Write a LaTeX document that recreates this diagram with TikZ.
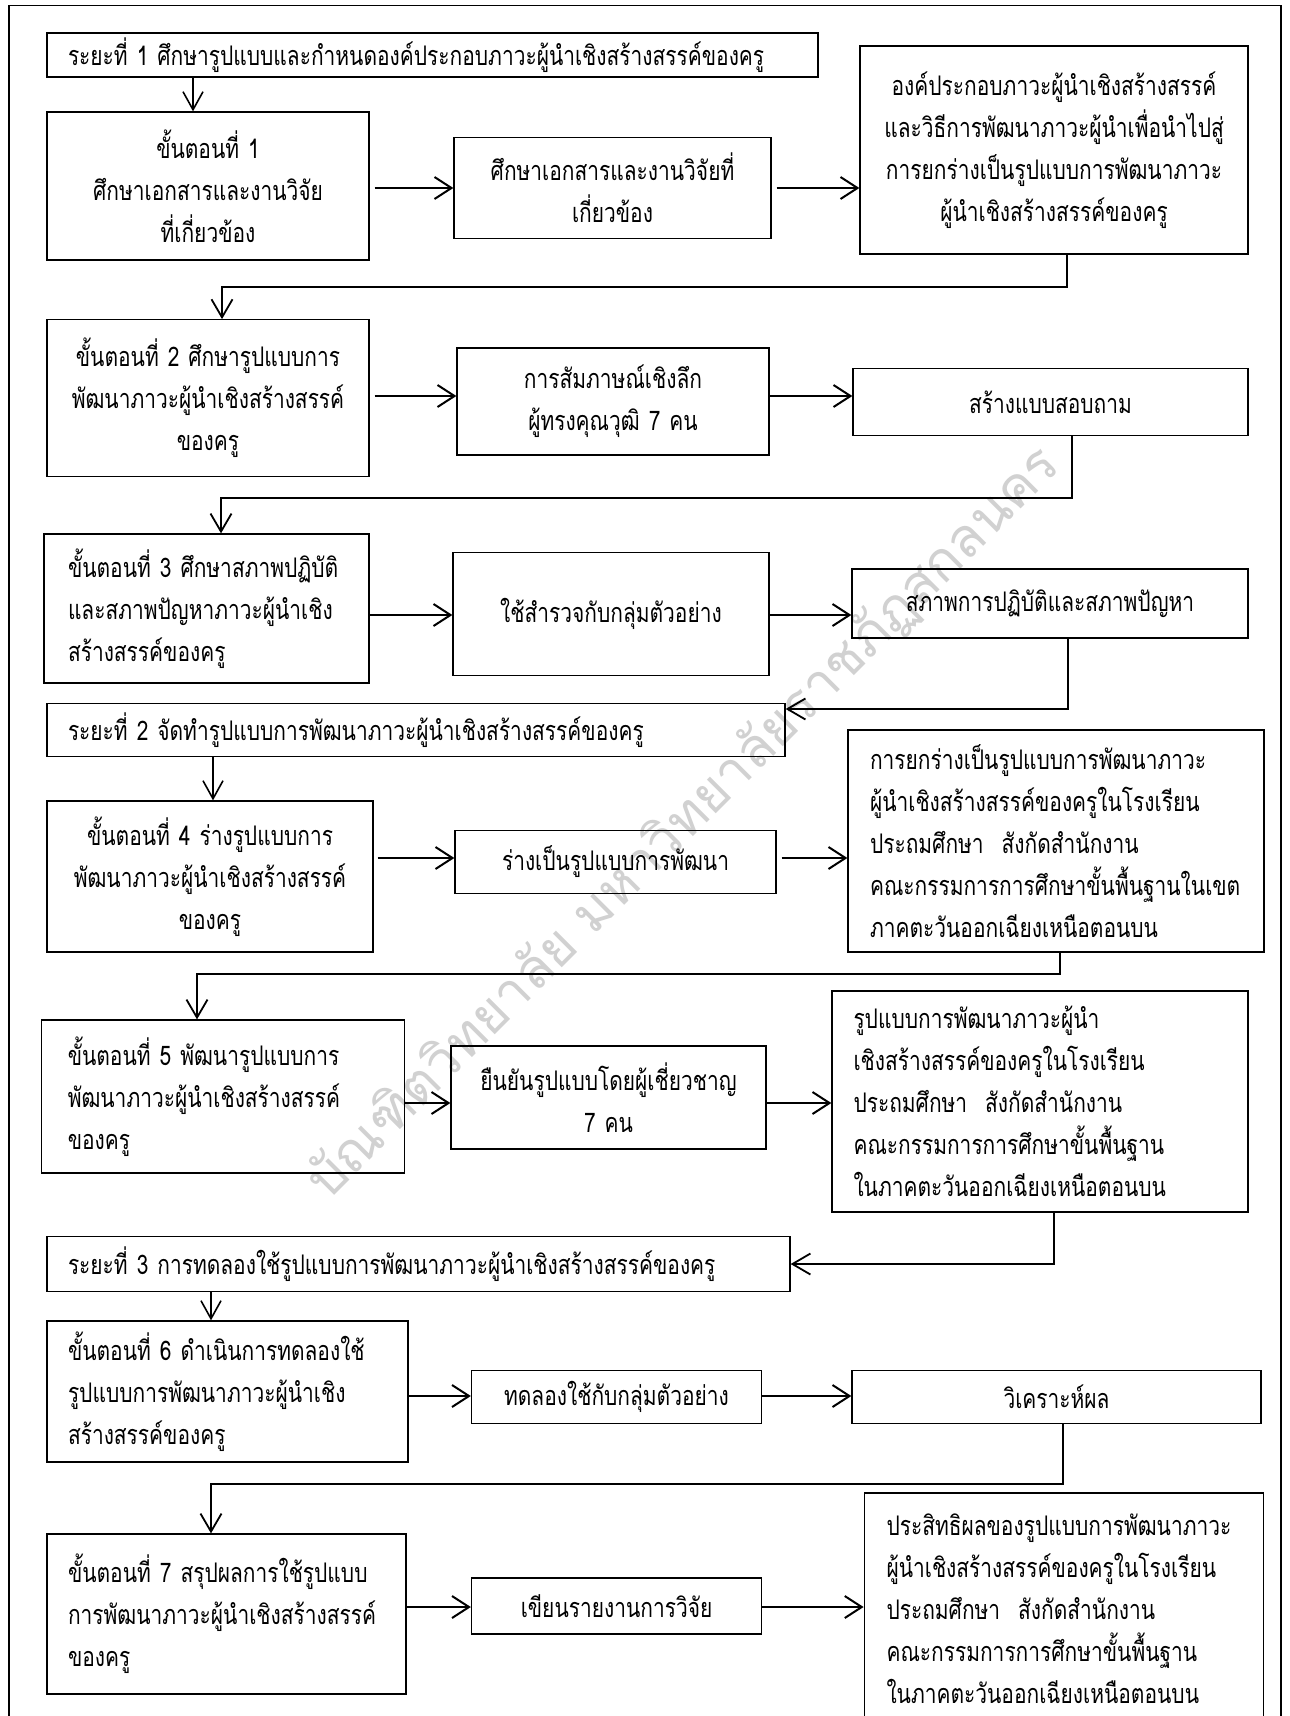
\documentclass[tikz,border=0pt]{standalone}
\usepackage{fontspec}
\newfontfamily\thai[Script=Thai,FakeStretch=0.775]{Loma}
\newfontfamily\thaiwm[Script=Thai]{Loma}
\usetikzlibrary{arrows.meta}
\tikzset{
  box/.style={draw, line width=1.3pt, inner sep=0pt, anchor=center,
    font={\thai\fontsize{27}{42}\selectfont}},
  cbox/.style={box, align=center},
  lbox/.style={box, align=left},
  harrow/.style={line width=2.6pt, -{Straight Barb[length=17pt,width=22pt,line width=2pt]}},
  varrow/.style={line width=1.6pt, -{Straight Barb[length=18pt,width=20pt,line width=1.6pt]}},
  elbowarrow/.style={line width=2pt, -{Straight Barb[length=18pt,width=21pt,line width=1.8pt]}},
  frame/.style={line width=1.3pt},
  watermark/.style={text=black!18, rotate=45, font={\thaiwm\fontsize{54}{60}\selectfont}},
}
\begin{document}
\begin{tikzpicture}[x=1pt,y=-1pt]
\useasboundingbox (0,0) rectangle (1290,1716);
\clip (0,0) rectangle (1290,1716);
\fill[white] (0,0) rectangle (1290,1716);

% watermark
\node[watermark] (wm) at (684,823) {บัณฑิตวิทยาลัย มหาวิทยาลัยราชภัฏสกลนคร};

% outer frame
\draw[frame] (9,1730) -- (9,5.5) -- (1281,5.5) -- (1281,1730);

% ---------- phase 1 ----------
\node[lbox, minimum width=771, minimum height=44, text width=729] (p1) at (432.5,55)
  {ระยะที่~1~ศึกษารูปแบบและกำหนดองค์ประกอบภาวะผู้นำเชิงสร้างสรรค์ของครู};
\node[cbox, minimum width=322, minimum height=148, text width=310] (s1) at (208,186)
  {ขั้นตอนที่~1\\ศึกษาเอกสารและงานวิจัย\\ที่เกี่ยวข้อง};
\node[cbox, minimum width=317, minimum height=101.5, text width=305] (b12) at (612.5,188)
  {ศึกษาเอกสารและงานวิจัยที่\\เกี่ยวข้อง};
\node[cbox, minimum width=388, minimum height=208, text width=378] (b13) at (1054,150)
  {องค์ประกอบภาวะผู้นำเชิงสร้างสรรค์\\และวิธีการพัฒนาภาวะผู้นำเพื่อนำไปสู่\\การยกร่างเป็นรูปแบบการพัฒนาภาวะ\\ผู้นำเชิงสร้างสรรค์ของครู};

\node[cbox, minimum width=322, minimum height=156.5, text width=310] (s2) at (208,398)
  {ขั้นตอนที่~2~ศึกษารูปแบบการ\\พัฒนาภาวะผู้นำเชิงสร้างสรรค์\\ของครู};
\node[cbox, minimum width=312, minimum height=107, text width=300] (b22) at (613,401.5)
  {การสัมภาษณ์เชิงลึก\\ผู้ทรงคุณวุฒิ~7~คน};
\node[cbox, minimum width=395, minimum height=67.5, text width=380] (b23) at (1050.5,402)
  {สร้างแบบสอบถาม};

\node[lbox, minimum width=325, minimum height=149, text width=277] (s3) at (206.5,608.5)
  {ขั้นตอนที่~3~ศึกษาสภาพปฏิบัติ\\และสภาพปัญหาภาวะผู้นำเชิง\\สร้างสรรค์ของครู};
\node[cbox, minimum width=316, minimum height=122.5, text width=300] (b32) at (611,614)
  {ใช้สำรวจกับกลุ่มตัวอย่าง};
\node[cbox, minimum width=396, minimum height=69, text width=380] (b33) at (1050,603.5)
  {สภาพการปฏิบัติและสภาพปัญหา};

% ---------- phase 2 ----------
\node[lbox, minimum width=738, minimum height=52.5, text width=696] (p2) at (416,730)
  {ระยะที่~2~จัดทำรูปแบบการพัฒนาภาวะผู้นำเชิงสร้างสรรค์ของครู};
\node[cbox, minimum width=326, minimum height=151, text width=314] (s4) at (210,876.5)
  {ขั้นตอนที่~4~ร่างรูปแบบการ\\พัฒนาภาวะผู้นำเชิงสร้างสรรค์\\ของครู};
\node[cbox, minimum width=321, minimum height=63.5, text width=305] (b42) at (615.5,862)
  {ร่างเป็นรูปแบบการพัฒนา};
\node[lbox, minimum width=416, minimum height=222, text width=372] (b43) at (1056,841)
  {การยกร่างเป็นรูปแบบการพัฒนาภาวะ\\ผู้นำเชิงสร้างสรรค์ของครูในโรงเรียน\\ประถมศึกษา~~สังกัดสำนักงาน\\คณะกรรมการการศึกษาขั้นพื้นฐานในเขต\\ภาคตะวันออกเฉียงเหนือตอนบน};

\node[lbox, minimum width=363.5, minimum height=153, text width=310.5] (s5) at (223,1096.5)
  {ขั้นตอนที่~5~พัฒนารูปแบบการ\\พัฒนาภาวะผู้นำเชิงสร้างสรรค์\\ของครู};
\node[cbox, minimum width=315, minimum height=103, text width=300] (b52) at (608.5,1097.5)
  {ยืนยันรูปแบบโดยผู้เชี่ยวชาญ\\7~คน};
\node[lbox, minimum width=416, minimum height=221, text width=373] (b53) at (1040,1101.5)
  {รูปแบบการพัฒนาภาวะผู้นำ\\เชิงสร้างสรรค์ของครูในโรงเรียน\\ประถมศึกษา~~สังกัดสำนักงาน\\คณะกรรมการการศึกษาขั้นพื้นฐาน\\ในภาคตะวันออกเฉียงเหนือตอนบน};

% ---------- phase 3 ----------
\node[lbox, minimum width=743, minimum height=54.5, text width=701] (p3) at (418.5,1264)
  {ระยะที่~3~การทดลองใช้รูปแบบการพัฒนาภาวะผู้นำเชิงสร้างสรรค์ของครู};
\node[lbox, minimum width=361, minimum height=141, text width=319] (s6) at (227.5,1391.5)
  {ขั้นตอนที่~6~ดำเนินการทดลองใช้\\รูปแบบการพัฒนาภาวะผู้นำเชิง\\สร้างสรรค์ของครู};
\node[cbox, minimum width=290, minimum height=53.5, text width=280] (b62) at (616.5,1397)
  {ทดลองใช้กับกลุ่มตัวอย่าง};
\node[cbox, minimum width=409, minimum height=53.5, text width=390] (b63) at (1056.5,1397)
  {วิเคราะห์ผล};

\node[lbox, minimum width=359, minimum height=160, text width=317] (s7) at (226.5,1614)
  {ขั้นตอนที่~7~สรุปผลการใช้รูปแบบ\\การพัฒนาภาวะผู้นำเชิงสร้างสรรค์\\ของครู};
\node[cbox, minimum width=290, minimum height=56, text width=280] (b72) at (616.5,1606)
  {เขียนรายงานการวิจัย};
\node[lbox, minimum width=399.5, minimum height=231, text width=355] (b73) at (1064,1608.5)
  {ประสิทธิผลของรูปแบบการพัฒนาภาวะ\\ผู้นำเชิงสร้างสรรค์ของครูในโรงเรียน\\ประถมศึกษา~~สังกัดสำนักงาน\\คณะกรรมการการศึกษาขั้นพื้นฐาน\\ในภาคตะวันออกเฉียงเหนือตอนบน};

% ---------- helper coordinates ----------
\coordinate (d1) at (193,0);
\coordinate (d2) at (213,0);
\coordinate (d3) at (211,0);
\coordinate (r1) at (0,188);
\coordinate (r2) at (0,396);
\coordinate (r3) at (0,615);
\coordinate (r4) at (0,858);
\coordinate (r5) at (0,1103);
\coordinate (r6) at (0,1396);
\coordinate (r7) at (0,1607);
\coordinate (k1) at (1067,287);  \coordinate (k1b) at (222,287);
\coordinate (k2) at (1072,498);  \coordinate (k2b) at (221,498);
\coordinate (k3) at (1068,709);
\coordinate (k4) at (1060,974);  \coordinate (k4b) at (197,974);
\coordinate (k5) at (1054,1264);
\coordinate (k6) at (1062.5,1484); \coordinate (k6b) at (211,1484);

% ---------- connectors ----------
\draw[varrow] (p1.south -| d1) -- (s1.north -| d1);
\draw[harrow, shorten <=5pt] (s1.east |- r1) -- (b12.west |- r1);
\draw[harrow, shorten <=5pt] (b12.east |- r1) -- (b13.west |- r1);
\draw[elbowarrow] (b13.south -| k1) -- (k1) -- (k1b) -- (s2.north -| k1b);

\draw[harrow, shorten <=5pt] (s2.east |- r2) -- (b22.west |- r2);
\draw[harrow] (b22.east |- r2) -- (b23.west |- r2);
\draw[elbowarrow] (b23.south -| k2) -- (k2) -- (k2b) -- (s3.north -| k2b);

\draw[harrow] (s3.east |- r3) -- (b32.west |- r3);
\draw[harrow] (b32.east |- r3) -- (b33.west |- r3);
\draw[elbowarrow] (b33.south -| k3) -- (k3) -- (p2.east |- k3);

\draw[varrow] (p2.south -| d2) -- (s4.north -| d2);
\draw[harrow, shorten <=4pt] (s4.east |- r4) -- (b42.west |- r4);
\draw[harrow, shorten <=5pt] (b42.east |- r4) -- (b43.west |- r4);
\draw[elbowarrow] (b43.south -| k4) -- (k4) -- (k4b) -- (s5.north -| k4b);

\draw[harrow] (s5.east |- r5) -- (b52.west |- r5);
\draw[harrow] (b52.east |- r5) -- (b53.west |- r5);
\draw[elbowarrow] (b53.south -| k5) -- (k5) -- (p3.east |- k5);

\draw[varrow] (p3.south -| d3) -- (s6.north -| d3);
\draw[harrow] (s6.east |- r6) -- (b62.west |- r6);
\draw[harrow] (b62.east |- r6) -- (b63.west |- r6);
\draw[elbowarrow] (b63.south -| k6) -- (k6) -- (k6b) -- (s7.north -| k6b);

\draw[harrow] (s7.east |- r7) -- (b72.west |- r7);
\draw[harrow] (b72.east |- r7) -- (b73.west |- r7);
\end{tikzpicture}
\end{document}
